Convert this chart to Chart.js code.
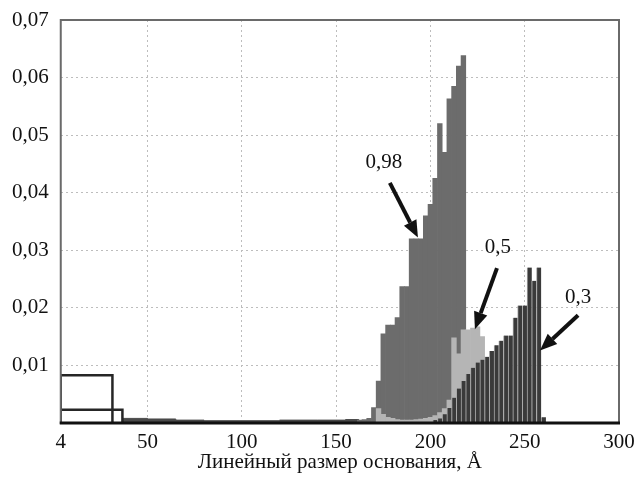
<!DOCTYPE html>
<html>
<head>
<meta charset="utf-8">
<script src="https://cdn.jsdelivr.net/npm/chart.js@4.4.1/dist/chart.umd.min.js"></script>
<style>
  html, body { margin: 0; padding: 0; background: #fff; }
</style>
</head>
<body>
<canvas id="myChart" width="634" height="482"></canvas>
<script>
// x axis ticks
const xTicks = [4, 50, 100, 150, 200, 250, 300];

// bin centres (bin width 2.5 A) and heights, series "0,98"
const x98 = [162.5, 165, 167.5, 170, 172.5, 175, 177.5, 180, 182.5, 185, 187.5, 190,
  192.5, 195, 197.5, 200, 202.5, 205, 207.5, 210, 212.5, 215, 217.5];
const y98 = [0.0005, 0.0006, 0.0008, 0.0027, 0.0073, 0.0155, 0.017, 0.017, 0.0183, 0.0237, 0.0237, 0.032,
  0.032, 0.032, 0.036, 0.038, 0.0425, 0.052, 0.047, 0.0563, 0.0585, 0.062, 0.0638];

// series "0,5"
const x05 = [172.5, 175, 177.5, 180, 182.5, 185, 187.5, 190, 192.5, 195, 197.5, 200, 202.5, 205, 207.5,
  210, 212.5, 215, 217.5, 220, 222.5, 225, 227.5];
const y05 = [0.0025, 0.0015, 0.001, 0.0008, 0.0006, 0.0005, 0.0005, 0.0005, 0.0006, 0.0007, 0.0008, 0.001, 0.0013, 0.0018, 0.0025,
  0.004, 0.0148, 0.012, 0.0162, 0.0162, 0.0165, 0.0167, 0.015];

// series "0,3"
const x03 = [202.5, 205, 207.5, 210, 212.5, 215, 217.5, 220, 222.5, 225, 227.5, 230, 232.5, 235,
  237.5, 240, 242.5, 245, 247.5, 250, 252.5, 255, 257.5, 260];
const y03 = [0.0005, 0.0008, 0.0015, 0.0026, 0.0044, 0.006, 0.0073, 0.0085, 0.0096, 0.0105, 0.011, 0.0115, 0.0125, 0.0135,
  0.0143, 0.0152, 0.0152, 0.0183, 0.0204, 0.0204, 0.027, 0.0247, 0.027, 0.001];

// low flat tail between the small-size bins and the peaks
const tailX = [36.7, 50, 65, 80, 100, 120, 140, 155, 162];
const tailY = [0.0008, 0.0007, 0.0005, 0.0004, 0.0004, 0.0005, 0.0005, 0.0006, 0];

// two wide outlined bins at small sizes
const boxLeft = [4, 4];
const boxRight = [31.4, 36.7];
const boxHeight = [0.0083, 0.0023];

const FONT = "'Liberation Serif', 'Times New Roman', serif";

const pts = (xs, ys) => xs.map((x, i) => ({ x: x, y: ys[i] }));

const barSet = (label, xs, ys, color, edge) => ({
  type: "bar",
  label: label,
  data: pts(xs, ys),
  backgroundColor: color,
  borderColor: edge || color,
  borderWidth: edge ? { left: 1, right: 0, top: 0, bottom: 0 } : 0,
  borderSkipped: false,
  grouped: false,
  barPercentage: 1,
  categoryPercentage: 1,
});

const boxSets = boxLeft.map((l, i) => ({
  type: "line",
  label: "box" + i,
  data: [
    { x: l, y: 0 }, { x: l, y: boxHeight[i] },
    { x: boxRight[i], y: boxHeight[i] }, { x: boxRight[i], y: 0 },
  ],
  borderColor: "#262626",
  borderWidth: 2.5,
  pointRadius: 0,
  fill: false,
  tension: 0,
}));

// labels with arrows, in data units
const notes = [
  { text: "0,98", tx: 175.3, ty: 0.0452, fx: 178.5, fy: 0.0417, ax: 193.4, ay: 0.0322 },
  { text: "0,5", tx: 235.8, ty: 0.0305, fx: 235.3, fy: 0.0269, ax: 223.6, ay: 0.0163 },
  { text: "0,3", tx: 278.3, ty: 0.0218, fx: 278.3, fy: 0.0187, ax: 258.1, ay: 0.0126 },
];

const notesPlugin = {
  id: "notes",
  afterDraw(chart) {
    const c = chart.ctx;
    const xs = chart.scales.x, ys = chart.scales.y;
    const area = chart.chartArea;
    // frame
    c.save();
    c.strokeStyle = "#6a6a6a";
    c.lineWidth = 2;
    c.strokeRect(area.left, area.top, area.right - area.left, area.bottom - area.top);
    c.strokeStyle = "#111";
    c.lineWidth = 3;
    c.beginPath();
    c.moveTo(area.left - 1, area.bottom);
    c.lineTo(area.right + 1, area.bottom);
    c.stroke();

    c.fillStyle = "#111";
    c.strokeStyle = "#111";
    c.font = "21px " + FONT;
    c.textAlign = "center";
    c.textBaseline = "middle";
    notes.forEach(n => {
      c.fillText(n.text, xs.getPixelForValue(n.tx), ys.getPixelForValue(n.ty));
      const x1 = xs.getPixelForValue(n.fx), y1 = ys.getPixelForValue(n.fy);
      const x2 = xs.getPixelForValue(n.ax), y2 = ys.getPixelForValue(n.ay);
      const a = Math.atan2(y2 - y1, x2 - x1);
      const hl = 17, hw = 7;
      const bx = x2 - hl * Math.cos(a), by = y2 - hl * Math.sin(a);
      c.lineWidth = 4;
      c.beginPath();
      c.moveTo(x1, y1);
      c.lineTo(bx, by);
      c.stroke();
      c.beginPath();
      c.moveTo(x2, y2);
      c.lineTo(bx + hw * Math.sin(a), by - hw * Math.cos(a));
      c.lineTo(bx - hw * Math.sin(a), by + hw * Math.cos(a));
      c.closePath();
      c.fill();
    });
    c.restore();
  },
};

const myChart = new Chart("myChart", {
  data: {
    datasets: [
      ...boxSets,
      barSet("0,3", x03, y03, "#3a3a3a", "#a8a8a8"),
      barSet("0,5", x05, y05, "#b5b5b5"),
      barSet("0,98", x98, y98, "#6c6c6c"),
      {
        type: "line",
        label: "tail",
        data: pts(tailX, tailY),
        stepped: true,
        fill: "origin",
        backgroundColor: "#4a4a4a",
        borderColor: "#4a4a4a",
        borderWidth: 1,
        pointRadius: 0,
      },
    ],
  },
  options: {
    responsive: false,
    animation: false,
    layout: { padding: { left: 0, right: 15, top: 20, bottom: 9 } },
    plugins: {
      legend: { display: false },
      tooltip: { enabled: false },
    },
    scales: {
      x: {
        type: "linear",
        offset: false,
        min: 4,
        max: 300,
        afterBuildTicks: axis => { axis.ticks = xTicks.map(v => ({ value: v })); },
        afterFit: axis => { axis.paddingLeft = 0; axis.paddingRight = 0; },
        grid: { color: "#bdbdbd", lineWidth: 1, drawTicks: false, offset: false },
        border: { display: false, dash: [2, 3] },
        ticks: { color: "#111", font: { family: FONT, size: 21, lineHeight: 1 }, padding: 9, maxRotation: 0,
          callback: v => String(v) },
        title: { display: true, text: "Линейный размер основания, Å", color: "#111",
          font: { family: FONT, size: 21, lineHeight: 1 }, padding: { top: -10, bottom: 0 } },
      },
      y: {
        min: 0,
        max: 0.07,
        afterFit: axis => { axis.paddingTop = 0; axis.paddingBottom = 0; },
        grid: { color: "#bdbdbd", lineWidth: 1, drawTicks: false },
        border: { display: false, dash: [2, 3] },
        ticks: { stepSize: 0.01, color: "#111", font: { family: FONT, size: 21 }, padding: 12,
          callback: v => (v < 0.001 ? "" : v.toFixed(2).replace(".", ",")) },
      },
    },
  },
  plugins: [notesPlugin],
});
</script>
</body>
</html>
